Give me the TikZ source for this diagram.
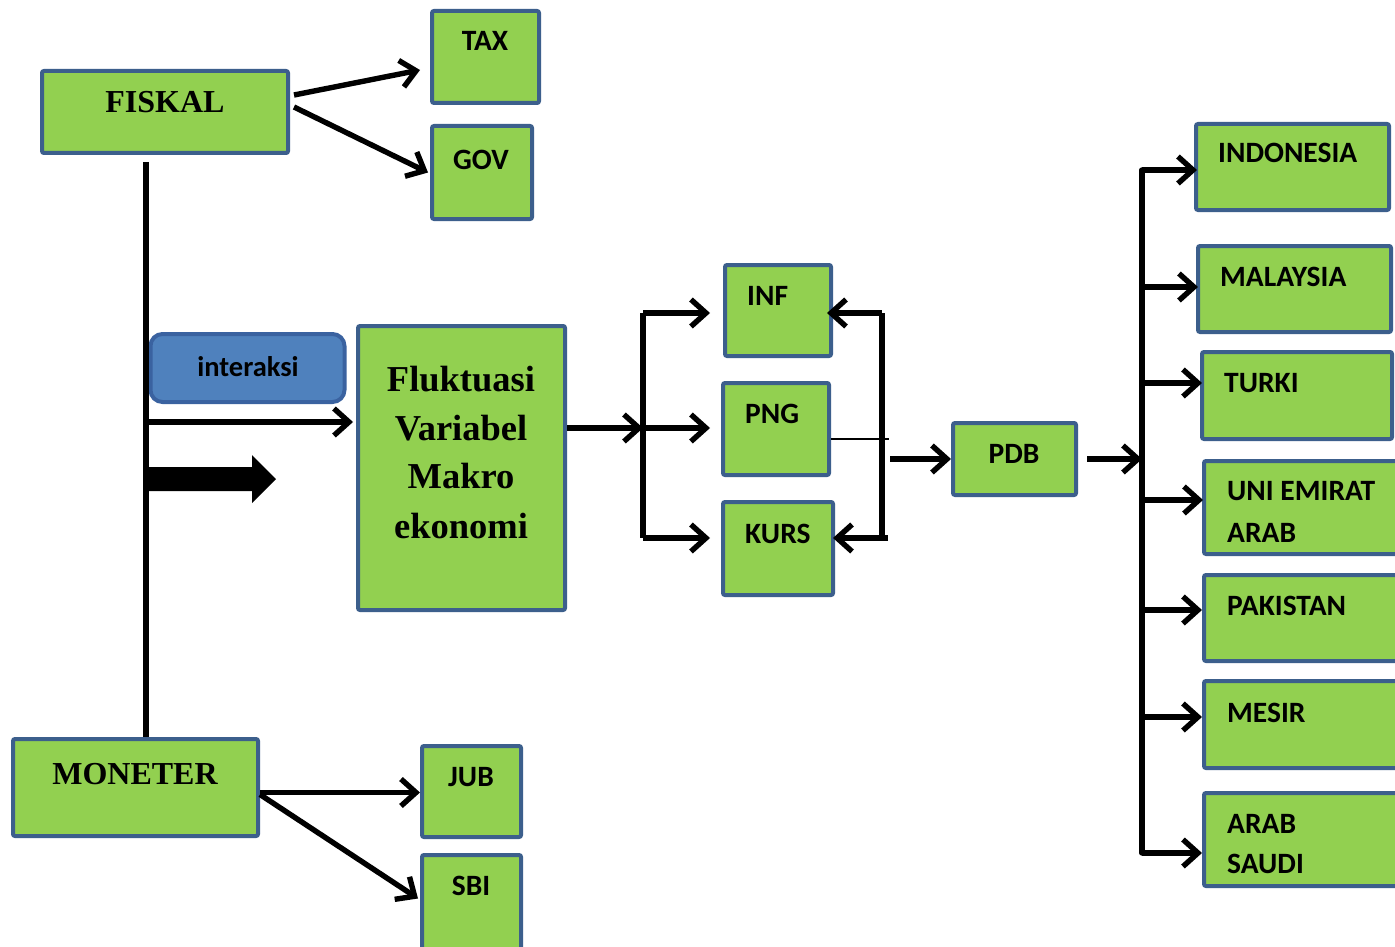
\documentclass[tikz,border=0pt]{standalone}
\usepackage{fontspec}
\setmainfont{Liberation Serif}
\newfontfamily\calfont{Carlito}
\usetikzlibrary{arrows.meta}
\definecolor{boxgreen}{HTML}{92D050}
\definecolor{boxedge}{HTML}{3C5F8C}
\definecolor{tagblue}{HTML}{4F81BD}
\definecolor{tagedge}{HTML}{3A62A0}

% green box from outer corners (x1,y1) to (x2,y2)
\newcommand\greenbox[5]{%
  \node[box, minimum width={(#4)-(#2)-4}, minimum height={(#5)-(#3)-4}]
    (#1) at ({((#2)+(#4))/2},{((#3)+(#5))/2}) {};}

\begin{document}
\begin{tikzpicture}[x=1pt,y=-1pt,
  box/.style={draw=boxedge, fill=boxgreen, line width=4pt, rounded corners=2pt,
    inner sep=0pt, outer sep=2pt},
  wire/.style={line width=5.4pt},
  arr/.style={wire, -{Straight Barb[length=15pt,width=27pt]}},
  serif/.style={font=\fontsize{32}{38}\selectfont\bfseries, inner sep=0pt, anchor=base},
  fluk/.style={font=\fontsize{36.5}{49}\selectfont\bfseries, inner sep=0pt, anchor=base},
  sans/.style={font=\calfont\fontsize{29.5}{42}\selectfont\bfseries, inner sep=0pt, anchor=base},
  sansl/.style={sans, anchor=base west}]

\fill[white] (0,0) rectangle (1395,947);
\useasboundingbox (0,0) rectangle (1395,947);

% ---- policy boxes
\greenbox{fiskal}{40}{69}{290}{155}
\greenbox{tax}{430}{9}{541}{105}
\greenbox{gov}{430}{124}{534}{221}
\greenbox{moneter}{11}{737}{260}{838}
\greenbox{jub}{420}{744}{523}{839}
\greenbox{sbi}{420}{853}{523}{958}

% ---- macro variables
\greenbox{fluk}{356}{324}{567}{612}
\greenbox{inf}{723}{263}{833}{358}
\greenbox{png}{721}{381}{831}{477}
\greenbox{kurs}{721}{500}{835}{597}
\greenbox{pdb}{951}{421}{1078}{497}

% ---- countries
\greenbox{indonesia}{1194}{122}{1391}{212}
\greenbox{malaysia}{1196}{244}{1393}{334}
\greenbox{turki}{1200}{350}{1394}{441}
\greenbox{uea}{1202}{459}{1410}{556}
\greenbox{pakistan}{1202}{573}{1410}{663}
\greenbox{mesir}{1202}{679}{1410}{770}
\greenbox{saudi}{1202}{791}{1410}{888}

% ---- interaction tag
\node[draw=tagedge, fill=tagblue, line width=4pt, rounded corners=12pt,
  minimum width=194, minimum height=68, inner sep=0pt] (tag) at (247.5,368) {};

% ---- labels
\node[serif] (tFiskal) at (165,113) {FISKAL};
\node[serif] (tMoneter) at (135,784) {MONETER};
\node[sans] (tTax) at (485,51) {TAX};
\node[sans] (tGov) at (481,169) {GOV};
\node[sans] (tJub) at (471,786) {JUB};
\node[sans] (tSbi) at (471,895) {SBI};
\node[sans, font=\calfont\fontsize{28.5}{34}\selectfont\bfseries] (tTag) at (248,376) {interaksi};
\node[fluk] (tF1) at (461,391) {Fluktuasi};
\node[fluk] (tF2) at (461,440) {Variabel};
\node[fluk] (tF3) at (461,488) {Makro};
\node[fluk] (tF4) at (461,538) {ekonomi};
\node[sansl] (tInf) at (747,305) {INF};
\node[sansl] (tPng) at (745,423) {PNG};
\node[sansl] (tKurs) at (745,543) {KURS};
\node[sans] (tPdb) at (1014,463) {PDB};
\node[sansl] (tIndo) at (1218,163) {INDONESIA};
\node[sansl] (tMal) at (1220,286) {MALAYSIA};
\node[sansl] (tTur) at (1224,392) {TURKI};
\node[sansl] (tUea1) at (1227,500) {UNI EMIRAT};
\node[sansl] (tUea2) at (1227,542) {ARAB};
\node[sansl] (tPak) at (1227,615) {PAKISTAN};
\node[sansl] (tMes) at (1227,722) {MESIR};
\node[sansl] (tSa1) at (1227,833) {ARAB};
\node[sansl] (tSa2) at (1227,873) {SAUDI};

% ---- fiscal and monetary instruments
\draw[arr] ([shift={(4,-17)}]fiskal.east) -- ([shift={(-10,13)}]tax.west);
\draw[arr] ([shift={(4,-5)}]fiskal.east) -- ([shift={(-2,0)}]gov.west);
\draw[arr] ([shift={(0,5)}]moneter.east) -- ([shift={(0,1)}]jub.west);
\draw[arr] ([shift={(0,7)}]moneter.east) -- ([shift={(-2,-7)}]sbi.west);

% ---- interaction spine between the two policies
\coordinate (spineTop) at (146,162);
\coordinate (spineBot) at (moneter.north -| spineTop);
\draw[wire] (spineTop) -- (spineBot);
\coordinate (tap) at (146,422);
\draw[arr] (tap) -- ([xshift=-3]tap -| fluk.west);
\fill (146,467) -- (252,467) -- (252,455) -- (276,479) -- (252,503)
  -- (252,491) -- (146,491) -- cycle;

% ---- left bracket to INF / PNG / KURS
\coordinate (lbMid) at (643,428);
\coordinate (lbTop) at (643,313);
\coordinate (lbBot) at (643,538);
\draw[arr] (fluk.east |- lbMid) -- (lbMid);
\draw[wire] (lbTop) -- (lbBot);
\draw[arr] (lbTop) -- ([xshift=-13]lbTop -| inf.west);
\draw[arr] (lbMid) -- ([xshift=-11]lbMid -| png.west);
\draw[arr] (lbBot) -- ([xshift=-11]lbBot -| kurs.west);

% ---- right bracket feeding back to INF and KURS
\coordinate (rbTop) at (882,313);
\coordinate (rbBot) at (882,538);
\coordinate (rbEnd) at (888,538);
\draw[wire] (rbTop) -- (rbBot) -- (rbEnd);
\draw[arr] (rbTop) -- ([xshift=-6]rbTop -| inf.east);
\draw[arr] (rbEnd) -- ([xshift=-2]rbEnd -| kurs.east);
\coordinate (thinEnd) at (889,439);
\draw[line width=1.3pt] (thinEnd -| png.east) -- (thinEnd);

% ---- to PDB
\coordinate (pdbIn) at (890,459);
\draw[arr] (pdbIn) -- (pdbIn -| pdb.west);

% ---- PDB to the countries
\coordinate (csMid) at (1142,459);
\coordinate (csTop) at (1142,170);
\coordinate (csBot) at (1142,853);
\draw[arr] ([xshift=9]pdb.east) -- (csMid);
\draw[wire, line cap=round] (csTop) -- (csBot);
\foreach \c/\yy/\dx in {indonesia/170/3, malaysia/287/2, turki/383/2,
    uea/500/1, pakistan/610/0, mesir/717/0, saudi/853/0} {
  \coordinate (b) at (1142,\yy);
  \draw[arr] (b) -- ([xshift=\dx]b -| \c.west);
}
\end{tikzpicture}
\end{document}
